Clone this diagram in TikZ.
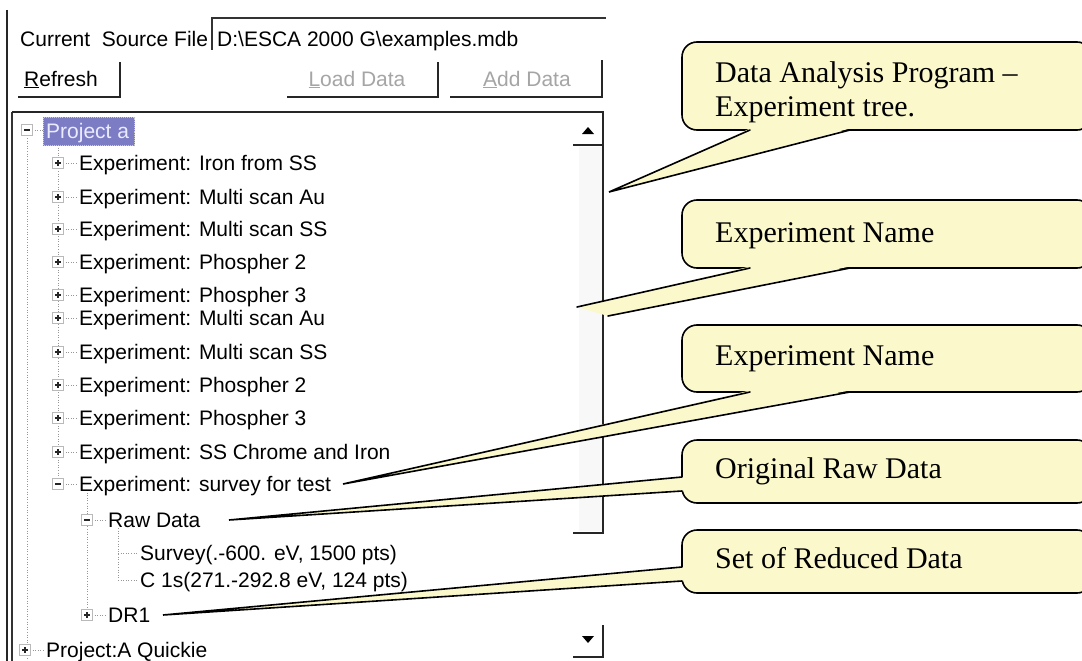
\documentclass[tikz,border=0pt]{standalone}
\usepackage{fontspec}
\setmainfont{Liberation Serif}
\newfontfamily\uifont{Liberation Sans}
\definecolor{callfill}{RGB}{251,249,204}
\definecolor{hilite}{RGB}{124,124,196}
\definecolor{dimtext}{RGB}{165,165,165}
\definecolor{treeline}{RGB}{150,150,150}
\definecolor{track}{RGB}{248,248,248}
\tikzset{
  plusbx/.pic={\draw[draw=gray!55,fill=white,line width=0.8pt] (-5.5,-5.5) rectangle (5.5,5.5);
               \draw[black!85,line width=1.1pt] (-3,0)--(3,0) (0,-3)--(0,3);},
  minusbx/.pic={\draw[draw=gray!55,fill=white,line width=0.8pt] (-5.5,-5.5) rectangle (5.5,5.5);
               \draw[black!85,line width=1.1pt] (-3,0)--(3,0);},
}
\begin{document}
\begin{tikzpicture}[x=1pt,y=-1pt,
  ui/.style={font=\uifont\fontsize{21}{24}\selectfont, inner sep=0pt, anchor=base west},
  calltext/.style={font=\fontsize{30}{34}\selectfont, inner sep=0pt, anchor=base west},
  callbox/.style={fill=callfill, draw=black, line width=1.6pt, rounded corners=15pt},
  tailfill/.style={fill=callfill},
  tailline/.style={draw=black, line width=1.6pt, line join=miter, line cap=round},
  winline/.style={line width=1.8pt, draw=black!85},
  thinwin/.style={line width=1.2pt, draw=black!80},
  dots/.style={draw=treeline, line width=0.9pt, dash pattern=on 1pt off 1.6pt},
]
\useasboundingbox[fill=white] (0,0) rectangle (1082,661);

% ---------------- window frame ----------------
\draw[winline] (7,10) -- (7,661);
\draw[thinwin] (12,112) -- (12,661);
\draw[winline] (12,112) -- (604,112);
% source file box
\draw[thinwin] (212,50) -- (212,18) -- (606,18);
\node[ui] (srclbl) at (20,47) {Current\ \ Source File};
\node[ui] (srcpath) at (217,47) {D:\textbackslash ESCA 2000 G\textbackslash examples.mdb};
% buttons
\draw[winline] (18,97) -- (120,97) -- (120,62);
\draw[winline] (287,97) -- (438,97) -- (438,62);
\draw[winline] (450,97) -- (602,97) -- (602,60);
\node[ui, anchor=base] (refresh) at (61,86) {\underline{R}efresh};
\node[ui, anchor=base, text=dimtext] (load) at (357,86) {\underline{L}oad Data};
\node[ui, anchor=base, text=dimtext] (add) at (527,86) {\underline{A}dd Data};

% ---------------- scroll bar ----------------
\fill[track] (579,147) rectangle (602,531);
\draw[winline] (573,145) -- (603,145);
\draw[winline] (603,112) -- (603,533) -- (573,533);
\draw[winline] (603,625) -- (603,657) -- (573,657);
\fill[black] (582,134) -- (594,134) -- (588,127) -- cycle;
\fill[black] (582,636) -- (594,636) -- (588,643) -- cycle;

% ---------------- tree lines ----------------
\draw[dots] (27,138) -- (27,661);
\draw[dots] (32,130) -- (43,130);
\draw[dots] (58,145) -- (58,484);
\foreach \yy in {163,197,229,262,295,318,352,385,418,452,484}{
  \draw[dots] (63,\yy) -- (77,\yy);
}
\draw[dots] (87,490) -- (87,615);
\draw[dots] (92,520) -- (106,520);
\draw[dots] (92,615) -- (106,615);
\draw[dots] (118,528) -- (118,580);
\draw[dots] (118,553) -- (137,553);
\draw[dots] (118,580) -- (137,580);
\draw[dots] (30,650) -- (45,650);

% ---------------- tree boxes ----------------
\pic at (27,130) {minusbx};
\foreach \yy in {163,197,229,262,295,318,352,385,418,452}{
  \pic at (58,\yy) {plusbx};
}
\pic at (58,484) {minusbx};
\pic at (87,520) {minusbx};
\pic at (87,615) {plusbx};
\pic at (25,650) {plusbx};

% ---------------- tree labels ----------------
\fill[hilite] (43,117) rectangle (135,146);
\draw[white!80!black, dash pattern=on 1pt off 1pt, line width=0.8pt] (43.5,117.5) rectangle (134.5,145.5);
\node[ui, text=white!92!blue] (proja) at (46,138) {Project a};
\node[ui] (e1) at (79,170) {Experiment: Iron from SS};
\node[ui] (e2) at (79,204) {Experiment: Multi scan Au};
\node[ui] (e3) at (79,236) {Experiment: Multi scan SS};
\node[ui] (e4) at (79,269) {Experiment: Phospher 2};
\node[ui] (e5) at (79,302) {Experiment: Phospher 3};
\node[ui] (e6) at (79,325) {Experiment: Multi scan Au};
\node[ui] (e7) at (79,359) {Experiment: Multi scan SS};
\node[ui] (e8) at (79,392) {Experiment: Phospher 2};
\node[ui] (e9) at (79,425) {Experiment: Phospher 3};
\node[ui] (e10) at (79,459) {Experiment: SS Chrome and Iron};
\node[ui] (e11) at (79,491) {Experiment: survey for test};
\node[ui] (raw) at (108,527) {Raw Data};
\node[ui] (surv) at (140,560) {Survey(.-600. eV, 1500 pts)};
\node[ui] (c1s) at (140,587) {C 1s(271.-292.8 eV, 124 pts)};
\node[ui] (dr1) at (108,622) {DR1};
\node[ui] (quick) at (46,657) {Project:A Quickie};

% ---------------- callouts ----------------
\coordinate (t1) at (609,192);
\coordinate (t2a) at (577,307);
\coordinate (t2b) at (608,316);
\coordinate (t3) at (343,484);
\coordinate (t4) at (229,520);
\coordinate (t5) at (163,615);

% callout 1
\path[callbox] (682,42) rectangle (1092,130);
\fill[tailfill] (750,128.5) -- (t1) -- (850,128.5) -- cycle;
\draw[tailline] (750,130) -- (t1) -- (850,130);
\node[calltext] (c1a) at (715,82) {Data Analysis Program --};
\node[calltext] (c1b) at (715,117) {Experiment tree.};

% callout 2
\path[callbox] (682,200) rectangle (1092,268);
\fill[tailfill] (750,266.5) -- (t2a) -- (t2b) -- (850,266.5) -- cycle;
\draw[tailline] (750,268) -- (t2a);
\draw[tailline] (t2b) -- (850,268);
\node[calltext] (c2) at (715,242) {Experiment Name};

% callout 3
\path[callbox] (682,325) rectangle (1092,392);
\fill[tailfill] (750,390.5) -- (t3) -- (850,390.5) -- cycle;
\draw[tailline] (750,392) -- (t3) -- (850,392);
\node[calltext] (c3) at (715,365) {Experiment Name};

% callout 4
\path[callbox] (682,440) rectangle (1092,503);
\fill[tailfill] (683.5,477) -- (t4) -- (683.5,491) -- cycle;
\draw[tailline] (682,477) -- (t4) -- (682,491);
\node[calltext] (c4) at (715,478) {Original Raw Data};

% callout 5
\path[callbox] (682,530) rectangle (1092,593);
\fill[tailfill] (683.5,567) -- (t5) -- (683.5,581) -- cycle;
\draw[tailline] (682,567) -- (t5) -- (682,581);
\node[calltext] (c5) at (715,568) {Set of Reduced Data};
\end{tikzpicture}
\end{document}
